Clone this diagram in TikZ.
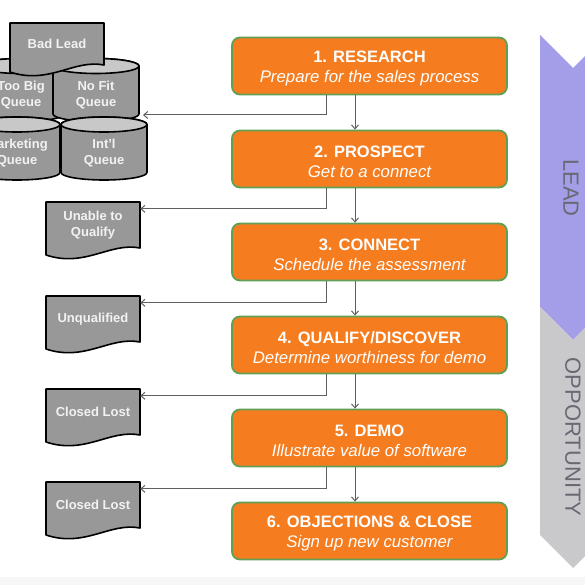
\documentclass[tikz,border=0pt]{standalone}
\usepackage{fontspec}
\setmainfont{Liberation Sans}
\usetikzlibrary{arrows.meta}
\definecolor{orangefill}{RGB}{245,125,32}
\definecolor{greenedge}{RGB}{96,160,84}
\definecolor{docgray}{RGB}{152,152,152}
\definecolor{toplight}{RGB}{200,200,200}
\definecolor{leadpurple}{RGB}{164,157,232}
\definecolor{oppgray}{RGB}{201,201,204}
\definecolor{labgray}{RGB}{105,105,115}
\definecolor{linegray}{RGB}{95,95,95}
\definecolor{softwhite}{RGB}{242,242,242}

\newcommand\mydoc[5]{% name, cx, top, height, text
  \draw[docshape] (#2-47,#3) -- (#2+47,#3) -- (#2+47,#3+#4)
    .. controls +(-30,-6) and +(39,13) .. (#2-47,#3+#4+7) -- cycle;
  \node[doctext, minimum height=#4pt] (#1) at (#2,#3+#4/2) {#5};
}
\newcommand\mycyl[5]{% name, cx, ytop, ybottom, text
  \path[docshape] (#2-43,#3) -- (#2-43,#4)
    arc[start angle=180,end angle=360,x radius=43pt,y radius=7.5pt]
    -- (#2+43,#3)
    arc[start angle=0,end angle=180,x radius=43pt,y radius=7.5pt] -- cycle;
  \draw[cyltop] (#2,#3) ellipse[x radius=43pt,y radius=7.5pt];
  \node[doctext, minimum width=86pt] (#1) at (#2,#3+29) {#5};
}
\newcommand\steptitle[1]{{\rule{0pt}{17pt}\fontsize{16.5}{20}\selectfont\bfseries #1}}

\begin{document}
\begin{tikzpicture}[x=1pt,y=-1pt,
  stepbox/.style={draw=greenedge, line width=1.8pt, fill=orangefill,
    rounded corners=8pt, minimum width=275pt, minimum height=57pt,
    text=white, align=center, inner sep=0pt,
    font=\fontsize{16.8}{20}\selectfont},
  docshape/.style={draw=black, line width=1.6pt, fill=docgray, line join=round},
  cyltop/.style={draw=black, line width=1.6pt, fill=toplight},
  doctext/.style={text=softwhite, align=center, inner sep=0pt,
    minimum width=94pt, font=\fontsize{13}{16}\selectfont\bfseries},
  phase/.style={text=labgray, font=\fontsize{22}{24}\selectfont, inner sep=0pt},
  conn/.style={draw=linegray, line width=1pt},
  arr/.style={conn, -{Straight Barb[length=4pt,width=7pt]}}
]
\useasboundingbox (0,0) rectangle (585,585);
\clip (0,0) rectangle (585,585);
\fill[gray!6] (0,577) rectangle (585,585);

% phase chevrons
\fill[leadpurple] (540,35) -- (573,68) -- (606,35) -- (606,307) -- (573,340) -- (540,307) -- cycle;
\fill[oppgray] (540,307) -- (573,340) -- (606,307) -- (606,535) -- (573,568) -- (540,535) -- cycle;
\node[phase, rotate=-90] (lead) at (571,188) {LEAD};
\node[phase, rotate=-90] (opp) at (573,437) {OPPORTUNITY};

% queues
\mycyl{toobig}{21}{66}{114}{Too Big\\Queue}
\mycyl{nofit}{96}{66}{114}{No Fit\\Queue}
\mydoc{badlead}{57}{23}{42}{Bad Lead}
\mycyl{mkt}{17}{124.5}{172.5}{Marketing\\Queue}
\mycyl{intl}{104}{124.5}{172.5}{Int'l\\Queue}
\coordinate (qin) at (143,115);

% exit documents
\mydoc{uq}{93}{202}{46}{Unable to\\Qualify}
\mydoc{unq}{93}{296}{46}{Unqualified}
\mydoc{cl1}{93}{389}{46}{Closed Lost}
\mydoc{cl2}{93}{482}{46}{Closed Lost}

% steps
\node[stepbox] (b1) at (369.5,66) {\steptitle{1. RESEARCH}\\\itshape Prepare for the sales process};
\node[stepbox] (b2) at (369.5,159) {\steptitle{2. PROSPECT}\\\itshape Get to a connect};
\node[stepbox] (b3) at (369.5,252) {\steptitle{3. CONNECT}\\\itshape Schedule the assessment};
\node[stepbox] (b4) at (369.5,345) {\steptitle{4. QUALIFY/DISCOVER}\\\itshape Determine worthiness for demo};
\node[stepbox] (b5) at (369.5,438) {\steptitle{5. DEMO}\\\itshape Illustrate value of software};
\node[stepbox] (b6) at (369.5,531) {\steptitle{6. OBJECTIONS \& CLOSE}\\\itshape Sign up new customer};

% main flow
\foreach \a/\b in {b1/b2,b2/b3,b3/b4,b4/b5,b5/b6}
  \draw[arr] ([xshift=-14.5pt]\a.south) -- ([xshift=-14.5pt]\b.north);

% exits
\draw[arr] ([xshift=-43.5pt]b1.south) |- (qin);
\draw[arr] ([xshift=-43.5pt]b2.south) |- ([yshift=-7pt]uq.north east);
\draw[arr] ([xshift=-43.5pt]b3.south) |- ([yshift=-7pt]unq.north east);
\draw[arr] ([xshift=-43.5pt]b4.south) |- ([yshift=-7pt]cl1.north east);
\draw[arr] ([xshift=-43.5pt]b5.south) |- ([yshift=-7pt]cl2.north east);
\end{tikzpicture}
\end{document}
